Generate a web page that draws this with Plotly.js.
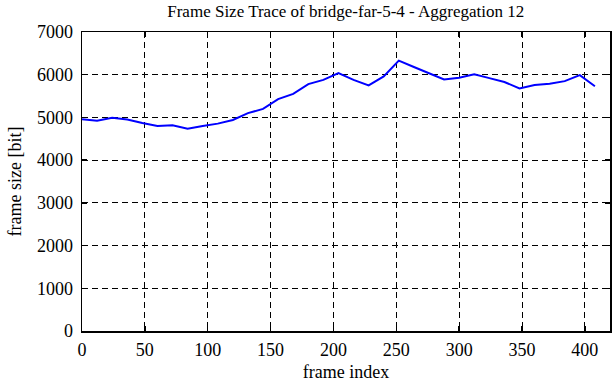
<!DOCTYPE html>
<html>
<head>
<meta charset="utf-8">
<script src="https://cdn.plot.ly/plotly-3.0.1.min.js"></script>
<style>html,body{margin:0;padding:0;background:#fff;}#chart{width:612px;height:382px;}</style>
</head>
<body>
<div id="chart"></div>
<script>
const frameIndex = [0,12,24,36,48,60,72,84,96,108,120,132,144,156,168,180,192,204,216,228,240,252,264,276,288,300,312,324,336,348,360,372,384,396,408];
const frameSize = [4960,4920,4990,4950,4870,4800,4815,4735,4800,4855,4940,5100,5200,5430,5550,5780,5880,6040,5880,5750,5960,6330,6180,6030,5890,5930,6010,5920,5830,5680,5760,5790,5850,5990,5730];
const xTicks = [0,50,100,150,200,250,300,350,400];
const yTicks = [0,1000,2000,3000,4000,5000,6000,7000];

const font = {family: '"Liberation Serif", "Times New Roman", serif', color: '#000'};
const axisCommon = {
  showline: true, linecolor: '#000', linewidth: 1.5, mirror: 'ticks',
  ticks: 'inside', ticklen: 5, tickcolor: '#000', tickwidth: 1.5,
  showgrid: true, gridcolor: '#000', gridwidth: 1, griddash: '6px,4px',
  zeroline: false, tickfont: Object.assign({size: 18}, font)
};
const layout = {
  width: 612, height: 382,
  margin: {l: 82, r: 2, t: 32, b: 51},
  paper_bgcolor: '#fff', plot_bgcolor: '#fff',
  showlegend: false,
  title: {text: 'Frame Size Trace of bridge-far-5-4 - Aggregation 12', font: Object.assign({size: 17}, font), x: 0.565, xanchor: 'center', y: 0.971, yanchor: 'middle'},
  xaxis: Object.assign({}, axisCommon, {range: [0, 420], tickvals: xTicks, ticktext: xTicks.map(String), ticklabelstandoff: 2,
    title: {text: 'frame index', font: Object.assign({size: 18}, font), standoff: 6}}),
  yaxis: Object.assign({}, axisCommon, {range: [0, 7000], tickvals: yTicks, ticktext: yTicks.map(String), ticklabelstandoff: 4,
    title: {text: 'frame size [bit]', font: Object.assign({size: 18}, font), standoff: 10}})
};
const data = [{x: frameIndex, y: frameSize, type: 'scatter', mode: 'lines', line: {color: '#0000ff', width: 2}}];
Plotly.newPlot('chart', data, layout, {displayModeBar: false, staticPlot: true});
</script>
</body>
</html>
